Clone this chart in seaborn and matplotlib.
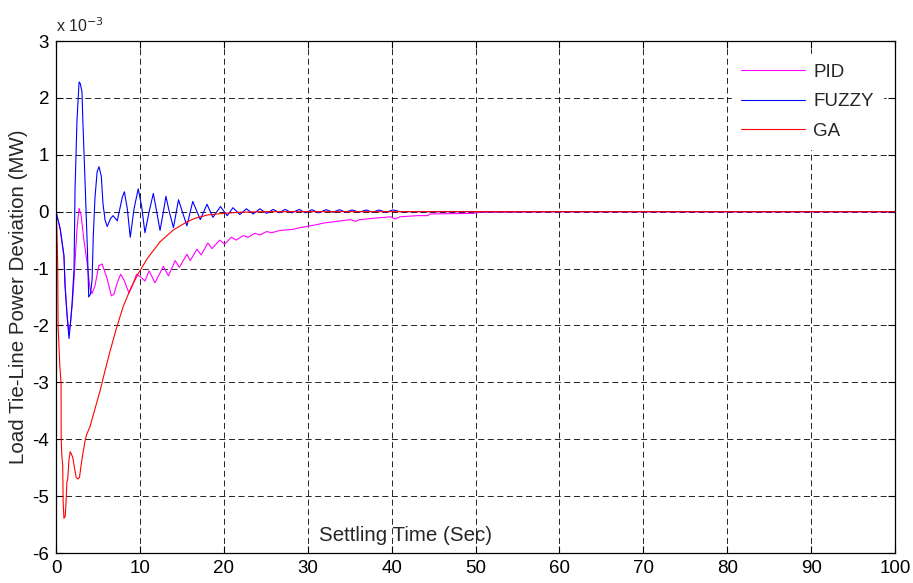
import matplotlib
matplotlib.use("Agg")
import matplotlib.pyplot as plt
import seaborn as sns
import pandas as pd

# ---- data (y in units of 1e-3 MW) ----
pid_t = [0, 0.5, 0.95, 1.1, 1.3, 1.5, 1.7, 1.95, 2.15, 2.5, 2.75, 3.0, 3.3, 3.7, 4.05, 4.3,
         4.65, 5.1, 5.5, 6.1, 6.6, 6.9, 7.3, 7.7, 8.1, 8.7, 9.1, 9.6, 10.1, 10.6, 11.1, 11.8,
         12.8, 13.4, 14.2, 14.7, 15.6, 16.0, 16.8, 17.3, 18.1, 18.6, 19.5, 20.1, 20.9, 21.5,
         22.3, 22.9, 23.7, 24.3, 25.1, 25.7, 26.7, 27.5, 28.3, 29.1, 29.9, 31.0, 31.9, 33.5,
         35.1, 35.7, 36.2, 38.3, 39.9, 40.4, 41.0, 43.1, 44.3, 44.6, 49.8, 50.6, 60, 100]
pid_y = [0, -0.3, -0.8, -1.3, -1.8, -2.1, -2.0, -1.6, -1.18, -0.3, 0.06, -0.07, -0.47, -0.89,
         -1.35, -1.44, -1.3, -0.95, -0.92, -1.18, -1.48, -1.45, -1.25, -1.1, -1.2, -1.43, -1.3,
         -1.1, -1.15, -1.22, -1.04, -1.25, -0.96, -1.13, -0.86, -0.98, -0.75, -0.86, -0.66,
         -0.76, -0.55, -0.65, -0.5, -0.57, -0.45, -0.5, -0.42, -0.45, -0.38, -0.41, -0.35,
         -0.37, -0.33, -0.32, -0.31, -0.28, -0.26, -0.23, -0.2, -0.17, -0.14, -0.17, -0.14,
         -0.11, -0.09, -0.13, -0.09, -0.07, -0.07, -0.04, -0.03, -0.01, 0, 0]

fuzzy_t = [0, 0.5, 0.95, 1.07, 1.3, 1.55, 1.67, 1.9, 2.15, 2.27, 2.5, 2.75, 2.9, 3.1, 3.2,
           3.46, 3.75, 3.9, 4.1, 4.3, 4.45, 4.65, 4.9, 5.13, 5.4, 5.6, 5.85, 6.1, 6.5, 6.8,
           7.3, 7.9, 8.15, 8.5, 8.85, 9.3, 9.8, 10.2, 10.6, 11.1, 11.6, 12.0, 12.4, 12.8,
           13.1, 13.5, 14.0, 14.6, 15.6, 16.3, 17.2, 18.0, 18.7, 19.6, 20.4, 21.1, 21.9,
           22.7, 23.5, 24.3, 25.1, 25.9, 26.6, 27.3, 28.1, 29.0, 29.7, 30.5, 31.3, 32.2,
           33.0, 33.8, 34.5, 35.3, 36.1, 37.0, 37.7, 38.5, 39.3, 40.2, 41.0, 100]
fuzzy_y = [0, -0.3, -0.77, -1.3, -1.77, -2.23, -2.05, -1.65, -1.0, 0.4, 1.6, 2.28, 2.25,
           2.1, 1.6, 0.54, -0.7, -1.5, -1.45, -1.2, -0.4, 0.25, 0.7, 0.79, 0.62, 0.14, -0.15,
           -0.26, -0.12, -0.07, -0.16, 0.25, 0.35, 0.05, -0.45, 0.05, 0.4, 0.1, -0.37, 0.0,
           0.32, 0.0, -0.33, 0.0, 0.27, 0.0, -0.28, 0.21, -0.25, 0.18, -0.14, 0.13, -0.1,
           0.09, -0.07, 0.07, -0.05, 0.05, -0.04, 0.05, -0.03, 0.04, -0.02, 0.04, -0.02,
           0.04, -0.02, 0.035, -0.02, 0.035, -0.01, 0.035, -0.01, 0.03, -0.01, 0.03, -0.01,
           0.03, -0.01, 0.03, 0.0, 0.0]

ga_t = [0, 0.1, 0.2, 0.25, 0.45, 0.6, 0.62, 0.7, 0.8, 0.85, 0.95, 1.1, 1.2, 1.3, 1.4, 1.55,
        1.7, 1.8, 2.0, 2.2, 2.4, 2.6, 2.8, 3.0, 3.15, 3.5, 3.7, 4.05, 4.6, 5.25, 5.85, 6.45,
        7.2, 8.0, 8.9, 9.8, 10.9, 12.4, 14.0, 15.6, 16.5, 18.0, 19.9, 22.0, 25, 100]
ga_y = [0, -0.3, -0.9, -2.0, -2.7, -3.0, -4.0, -4.3, -4.45, -5.1, -5.39, -5.35, -5.1, -4.75,
        -4.7, -4.35, -4.22, -4.25, -4.32, -4.5, -4.67, -4.7, -4.67, -4.45, -4.3, -4.0, -3.9,
        -3.78, -3.49, -3.15, -2.79, -2.45, -2.05, -1.67, -1.35, -1.09, -0.82, -0.53, -0.32,
        -0.18, -0.12, -0.06, -0.03, -0.01, 0, 0]

series_names = ["PID", "FUZZY", "GA"]
series_colors = ["#FF00FF", "#0000FF", "#FF0000"]
x_ticks = list(range(0, 101, 10))
y_ticks = list(range(-6, 4))

sns.set_theme(style="white")
plt.rcParams["font.family"] = ["Liberation Sans", "DejaVu Sans"]
plt.rcParams["lines.scale_dashes"] = False
FS = 13.5
LFS = 14.8

frames = []
for name, t, y in zip(series_names, [pid_t, fuzzy_t, ga_t], [pid_y, fuzzy_y, ga_y]):
    frames.append(pd.DataFrame({"t": t, "v": y, "series": name}))
df = pd.concat(frames, ignore_index=True)

fig = plt.figure(figsize=(9.13, 5.83), dpi=100)
ax = fig.add_axes([56 / 913, 1 - 553 / 583, (895 - 56) / 913, (553 - 41) / 583])

sns.lineplot(data=df, x="t", y="v", hue="series", hue_order=series_names,
             palette=dict(zip(series_names, series_colors)), sort=False,
             estimator=None, linewidth=0.8, ax=ax, legend=True)

ax.set_xlim(0, 100)
ax.set_ylim(-6, 3)
ax.set_xticks(x_ticks)
ax.set_yticks(y_ticks)
ax.set_xticklabels([str(v) for v in x_ticks], fontsize=FS)
ax.set_yticklabels([str(v) for v in y_ticks], fontsize=FS)
ax.tick_params(direction="in", length=5, width=0.8, top=True, right=True,
               bottom=True, left=True, colors="black", pad=5)
ax.grid(True, color="black", linestyle=(0, (4.3, 2.6)), linewidth=0.6)
for s in ax.spines.values():
    s.set_color("black")
    s.set_linewidth(0.9)
    s.set_visible(True)

ax.set_xlabel("")
ax.set_ylabel("Load Tie-Line Power Deviation (MW)", fontsize=LFS, labelpad=3)
ax.text(41.6, -5.70, "Settling Time (Sec)", fontsize=LFS, ha="center", va="center")
fig.text(56 / 913, 1 - 32 / 583, r"x 10$^{-3}$", fontsize=11.5, ha="left", va="baseline")

leg = ax.legend(loc="upper right", bbox_to_anchor=(0.997, 0.992), fontsize=FS,
                frameon=True, fancybox=False, handlelength=3.4, handletextpad=0.45,
                labelspacing=0.65, borderpad=0.5)
leg.get_frame().set_edgecolor("white")
leg.get_frame().set_facecolor("white")
leg.get_frame().set_alpha(1.0)
for line in leg.get_lines():
    line.set_linewidth(0.8)

fig.savefig("out.png", dpi=100)
